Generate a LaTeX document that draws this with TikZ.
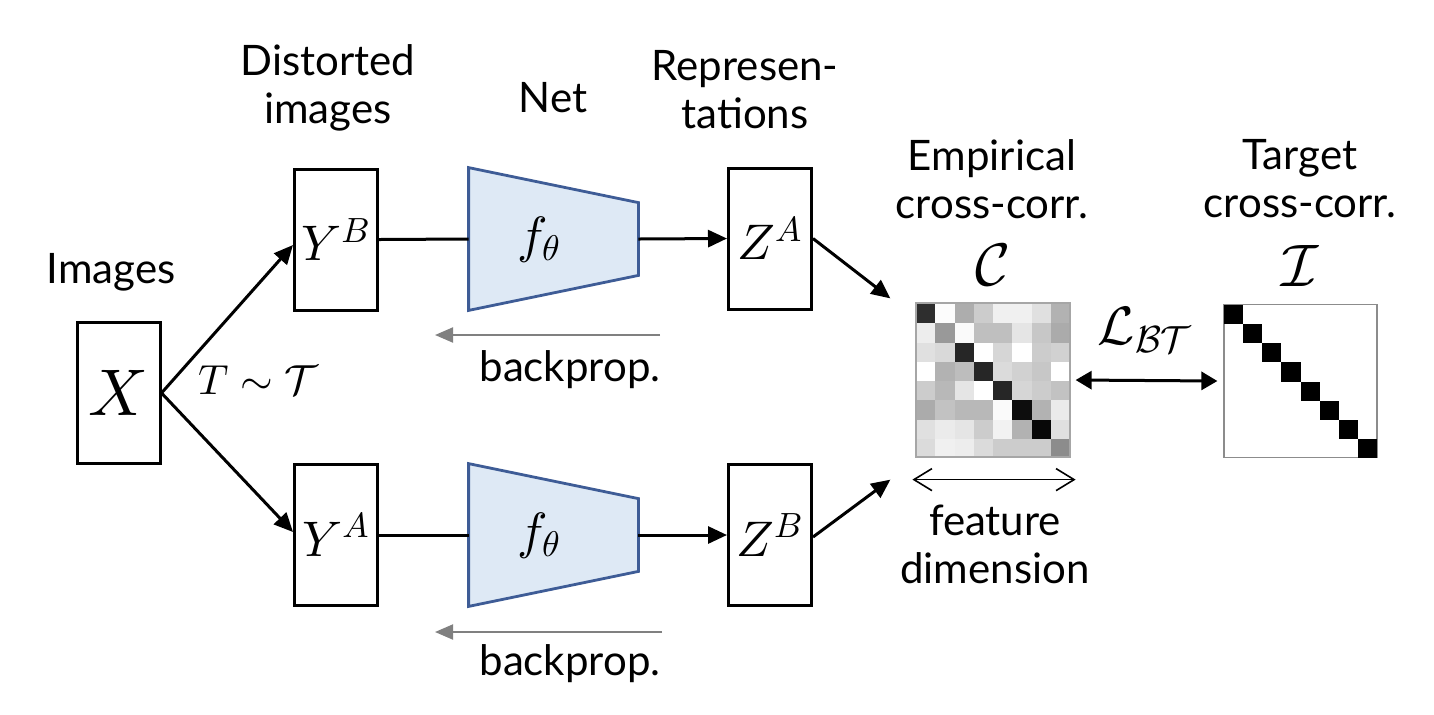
\documentclass[tikz,border=0pt]{standalone}
\usepackage[no-math]{fontspec}
\setmainfont{Lato}
\DeclareFontShape{OML}{cmm}{m}{it}{<->cmmi10}{}
\DeclareFontShape{OMS}{cmsy}{m}{n}{<->cmsy10}{}
\DeclareFontShape{OT1}{cmr}{m}{n}{<->cmr10}{}
\usetikzlibrary{arrows.meta,calc}
\definecolor{netfill}{RGB}{222,233,245}
\definecolor{netdraw}{RGB}{62,92,150}
\begin{document}
\begin{tikzpicture}[x=0.5pt,y=-0.5pt,
  lbl/.style={font=\fontsize{21}{24}\selectfont, align=center, inner sep=0pt},
  bigm/.style={font=\fontsize{25.5}{28}\selectfont, inner sep=0pt},
  box/.style={draw, line width=1.5pt, minimum width=41.5pt, minimum height=70.5pt, inner sep=0pt, font=\fontsize{25}{28}\selectfont},
  arr/.style={line width=1.5pt, -{Triangle[length=9.5pt,width=8.5pt]}},
  bp/.style={draw=black!50, line width=1pt, -{Triangle[length=9pt,width=7.5pt]}},
  net/.style={fill=netfill, draw=netdraw, line width=1.4pt, line join=miter}]
\useasboundingbox (0,0) rectangle (1434,714);

% input and views
\node[box, font=\fontsize{33}{36}\selectfont] (X) at (118.5,393) {$X$};
\node[box] (YB) at (336,239.5) {$Y^B$};
\node[box] (YA) at (336,535) {$Y^A$};
\node[box] (ZA) at (770,238.5) {$Z^A$};
\node[box] (ZB) at (770,535) {$Z^B$};

% networks
\node[inner sep=0pt, minimum width=84.5pt, minimum height=71pt] (fT) at (553.5,239) {};
\node[inner sep=0pt, minimum width=84.5pt, minimum height=71pt] (fB) at (553.5,535) {};
\draw[net] (fT.north west) -- ($(fT.north east)+(0,35)$) -- ($(fT.south east)+(0,-35)$) -- (fT.south west) -- cycle;
\draw[net] (fB.north west) -- ($(fB.north east)+(0,35)$) -- ($(fB.south east)+(0,-35)$) -- (fB.south west) -- cycle;
\node[bigm] (fTl) at (539,240) {$f_\theta$};
\node[bigm] (fBl) at (539,536) {$f_\theta$};

% connectors
\draw[arr] (X.east) -- ([yshift=-2.75pt]YB.west);
\draw[arr] (X.east) -- ([yshift=1.5pt]YA.west);
\draw[line width=1.5pt] (YB.east) -- (fT.west);
\draw[line width=1.5pt] (YA.east) -- (fB.west);
\draw[arr] (fT.east) -- (ZA.west);
\draw[arr] (fB.east) -- (ZB.west);

% labels
\node[lbl] (limg) at (111,272) {Images};
\node[lbl] (ldist) at (328,88) {Distorted\\images};
\node[lbl] (lnet) at (553,98) {Net};
\node[lbl] (lrep) at (745,90) {Represen-\\tations};
\node[inner sep=0pt, font=\fontsize{21}{24}\selectfont] (lT) at (258,380) {$T\sim\mathcal{T}$};

% backprop
\coordinate (bpT1) at (660,335);
\coordinate (bpT2) at (435,335);
\coordinate (bpB1) at (662,632);
\coordinate (bpB2) at (435,632);
\draw[bp] (bpT1) -- (bpT2);
\draw[bp] (bpB1) -- (bpB2);
\node[lbl] (lbpT) at (570,370) {backprop.};
\node[lbl] (lbpB) at (570,664) {backprop.};

% empirical cross-correlation matrix
\foreach \r/\vals in {
  0/{82,1,32,20,6,6,12,30},
  1/{7,40,2,25,25,10,22,33},
  2/{12,15,85,0,16,0,20,18},
  3/{0,30,26,85,14,18,22,0},
  4/{20,28,10,0,85,16,20,24},
  5/{33,24,28,28,2,95,30,8},
  6/{12,8,10,20,5,30,97,12},
  7/{14,6,7,14,20,20,20,45}} {
  \foreach \v [count=\c from 0] in \vals {
    \fill[black!\v] ({916+19.25*\c},{304+19.25*\r}) rectangle ++(19.25,19.25);
  }
}
\node[draw=black!35, line width=0.6pt, minimum size=77pt, inner sep=0pt] (C) at (993,380) {};

% target identity
\node[draw=black!45, line width=0.6pt, minimum size=76.5pt, inner sep=0pt] (I) at (1300.5,381) {};
\foreach \k in {0,...,7} {
  \fill[black] ({1224+19.125*\k},{305+19.125*\k}) rectangle ++(19.125,19.125);
}

\node[lbl] (lemp) at (992,179) {Empirical\\cross-corr.};
\node[lbl] (ltar) at (1300,179) {Target\\cross-corr.};
\node[inner sep=0pt, font=\fontsize{30}{32}\selectfont] (lC) at (993,265) {$\mathcal{C}$};
\node[inner sep=0pt, font=\fontsize{30}{32}\selectfont] (lI) at (1300,266) {$\mathcal{I}$};

\draw[arr] (ZA.east) -- ([shift={(-25,-4)}]C.north west);
\draw[arr] ([yshift=-1pt]ZB.east) -- ([shift={(-25,22)}]C.south west);

\draw[line width=1.5pt, {Triangle[length=8pt,width=9pt]}-{Triangle[length=8pt,width=9pt]}]
  ([xshift=2.5pt]C.east) -- ([xshift=-3pt]I.west);
\node[inner sep=0pt, font=\fontsize{27}{30}\selectfont] (lL) at (1145,330) {$\mathcal{L}_{\mathcal{BT}}$};

\draw[line width=0.8pt, {Straight Barb[length=9pt,width=11pt]}-{Straight Barb[length=9pt,width=11pt]}]
  ([shift={(-3,22)}]C.south west) -- ([shift={(5,22)}]C.south east);
\node[lbl] (lfeat) at (995,544) {feature\\dimension};
\end{tikzpicture}
\end{document}
